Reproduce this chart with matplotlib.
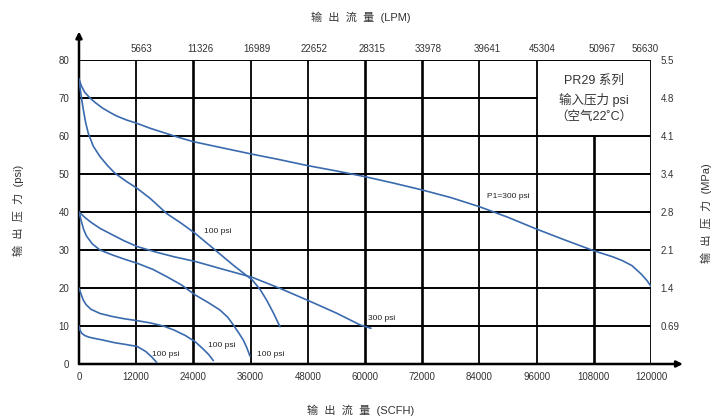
import matplotlib
matplotlib.use("Agg")
import matplotlib.pyplot as plt

plt.rcParams['font.family'] = ['Liberation Sans', 'Noto Sans CJK SC', 'DejaVu Sans']

# ---- data (SCFH, psi) ----
c300_top_x = [0, 500, 1200, 2300, 3500, 5000, 6500, 8000, 10000, 12000, 15000, 18000, 21000, 24000, 30000, 36000,
              42000, 48000, 54000, 60000, 66000, 72000, 78000, 84000, 90000, 96000, 102000, 108000, 112000, 114000,
              116000, 118000, 119200, 120000]
c300_top_y = [75, 73.2, 71.5, 70, 68.7, 67.3, 66.2, 65.2, 64.2, 63.4, 62.0, 60.8, 59.6, 58.5, 56.9, 55.3,
              53.8, 52.2, 50.8, 49.3, 47.6, 45.8, 43.8, 41.4, 38.6, 35.5, 32.6, 29.8, 28.2, 27.2,
              25.9, 23.6, 21.9, 20.4]

c100_top_x = [0, 400, 900, 1400, 1950, 3000, 4400, 6000, 7550, 10000, 12230, 15000, 18390, 21500, 24340, 28180,
              32370, 36360, 38000, 39370, 40800, 42170]
c100_top_y = [75, 71, 67, 63.5, 60.7, 57.3, 54.6, 52.2, 50.2, 48, 46.2, 43.5, 39.6, 37.0, 34.4, 30.4,
              26.0, 22.1, 19.6, 16.8, 13.4, 9.8]

c300_mid_x = [0, 1200, 2500, 4400, 7000, 9500, 12230, 16000, 20000, 24340, 30000, 36360, 42170, 48460, 54000,
              58950, 61260]
c300_mid_y = [40, 38.6, 37.3, 35.7, 34.0, 32.4, 30.9, 29.5, 28.2, 27.0, 25.0, 22.8, 19.9, 16.5, 13.4,
              10.3, 9.4]

c100_mid_x = [0, 500, 1000, 1610, 2800, 4400, 7000, 9500, 12230, 15500, 18390, 21500, 24340, 27200, 29580,
              31200, 32370, 33500, 34470, 35200, 35870]
c100_mid_y = [40, 37.5, 35.3, 33.6, 31.6, 30.0, 28.7, 27.6, 26.5, 24.9, 23.0, 20.8, 18.2, 16.1, 14.2,
              12.3, 10.3, 8.2, 6.3, 4.3, 2.1]

c100_20_x = [0, 300, 600, 910, 1500, 2500, 4400, 7000, 9500, 12230, 15000, 17690, 20000, 22300, 24340, 26000,
             27200, 28180]
c100_20_y = [20, 18.9, 17.8, 16.8, 15.6, 14.4, 13.3, 12.5, 11.9, 11.4, 10.8, 10.0, 8.9, 7.5, 5.9, 4.0,
             2.5, 0.9]

c100_10_x = [0, 200, 560, 1200, 2000, 3000, 5000, 7500, 10000, 12230, 14000, 15300, 16300]
c100_10_y = [10, 8.9, 8.1, 7.5, 7.1, 6.8, 6.3, 5.6, 5.1, 4.6, 3.3, 1.8, 0.4]

curves_x = [c300_top_x, c100_top_x, c300_mid_x, c100_mid_x, c100_20_x, c100_10_x]
curves_y = [c300_top_y, c100_top_y, c300_mid_y, c100_mid_y, c100_20_y, c100_10_y]

curve_labels = ["P1=300 psi", "100 psi", "300 psi", "100 psi", "100 psi", "100 psi"]
label_x = [85500, 26200, 60700, 37300, 27100, 15400]
label_y = [44.0, 34.8, 12.0, 2.6, 5.0, 2.4]

scfh_ticks = [0, 12000, 24000, 36000, 48000, 60000, 72000, 84000, 96000, 108000, 120000]
psi_ticks = [0, 10, 20, 30, 40, 50, 60, 70, 80]
mpa_labels = ["0.69", "1.4", "2.1", "2.8", "3.4", "4.1", "4.8", "5.5"]
lpm_labels = ["5663", "11326", "16989", "22652", "28315", "33978", "39641", "45304", "50967", "56630"]
lpm_label_pos = [13200, 25400, 37400, 49300, 61500, 73200, 85600, 97200, 109700, 118700]

blue = '#3a6aae'
tick_col = '#333333'

fig = plt.figure(figsize=(7.15, 4.19), dpi=100)
ax = fig.add_axes([79/715, 55/419, 572/715, 304/419])
ax.set_xlim(0, 120000)
ax.set_ylim(0, 80)
for s in ax.spines.values():
    s.set_visible(False)

# grid: horizontal lines
for yv in psi_ticks[1:]:
    if yv >= 70:
        ax.plot([0, 96000], [yv, yv], color='black', lw=1.4, zorder=1)
    else:
        ax.plot([0, 120000], [yv, yv], color='black', lw=1.4, zorder=1)
ax.plot([96000, 120000], [80, 80], color='black', lw=1.4, zorder=1)
# vertical lines
thick = {24000, 72000, 108000, 60000}
for xv in scfh_ticks[1:]:
    top = 60 if xv == 108000 else 80
    ax.plot([xv, xv], [0, top], color='black', lw=1.9 if xv in thick else 1.3, zorder=1)

# axes with arrows
ax.annotate('', xy=(0, 87.5), xytext=(0, 0), xycoords='data',
            arrowprops=dict(arrowstyle='-|>', color='black', lw=1.8, mutation_scale=9,
                            shrinkA=0, shrinkB=0), annotation_clip=False)
ax.annotate('', xy=(126700, 0), xytext=(0, 0), xycoords='data',
            arrowprops=dict(arrowstyle='-|>', color='black', lw=1.8, mutation_scale=9,
                            shrinkA=0, shrinkB=0), annotation_clip=False)

for cx, cy in zip(curves_x, curves_y):
    ax.plot(cx, cy, color=blue, lw=1.2, zorder=3, solid_capstyle='round')

for t, lx, ly in zip(curve_labels, label_x, label_y):
    ax.text(lx, ly, t, fontsize=6, color='#222222', ha='left', va='center', zorder=4)

# box text
ax.text(108000, 74.6, "PR29 系列", fontsize=9, color='#333333', ha='center', va='center')
ax.text(108000, 69.6, "输入压力 psi", fontsize=9, color='#333333', ha='center', va='center')
ax.text(108000, 65.0, "（空气22˚C）", fontsize=9, color='#333333', ha='center', va='center')

# ticks
ax.set_xticks(scfh_ticks)
ax.set_xticklabels([str(v) for v in scfh_ticks])
ax.set_yticks(psi_ticks)
ax.set_yticklabels([str(v) for v in psi_ticks])
ax.tick_params(axis='both', length=0, labelsize=7, colors=tick_col, pad=6)
ax.tick_params(axis='y', pad=7)

ax2 = ax.twinx()
ax2.set_ylim(0, 80)
for s in ax2.spines.values():
    s.set_visible(False)
ax2.set_yticks(psi_ticks[1:])
ax2.set_yticklabels(mpa_labels)
ax2.tick_params(axis='y', length=0, labelsize=7, colors=tick_col, pad=7)

for t, px in zip(lpm_labels, lpm_label_pos):
    ax.text(px, 82.8, t, fontsize=7, color=tick_col, ha='center', va='center')

fig.text(361/715, 1 - 17/419, "输  出  流  量  (LPM)", fontsize=8, color=tick_col, ha='center', va='center')
fig.text(361/715, 1 - 410/419, "输  出  流  量  (SCFH)", fontsize=8, color=tick_col, ha='center', va='center')
fig.text(18/715, 1 - 210/419, "输  出  压  力  (psi)", fontsize=8, color=tick_col, ha='center', va='center',
         rotation=90)
fig.text(706/715, 1 - 213/419, "输  出  压  力  (MPa)", fontsize=8, color=tick_col, ha='center', va='center',
         rotation=90)

fig.savefig('out.png', dpi=100)
